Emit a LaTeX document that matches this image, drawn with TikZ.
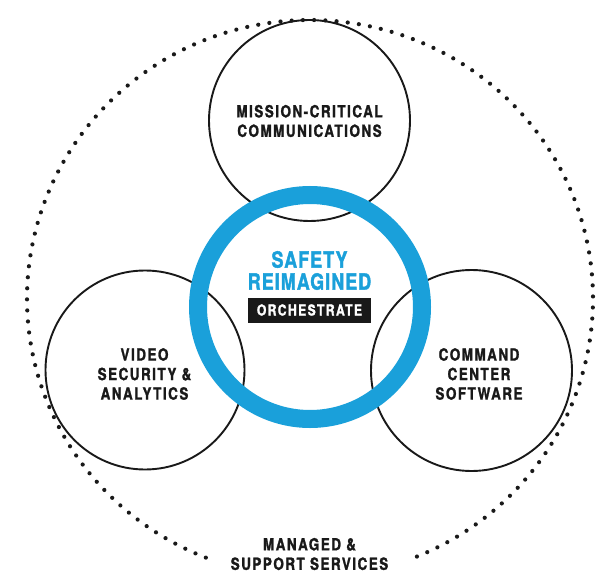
\documentclass[tikz,border=0pt]{standalone}
\usepackage{fontspec}
\newfontfamily\hcn[FakeStretch=0.8,LetterSpace=9,FakeBold=1.4]{TeX Gyre Heros}
\newfontfamily\hcnb[FakeStretch=0.8,LetterSpace=5,FakeBold=1.6]{TeX Gyre Heros}
\definecolor{ringblue}{RGB}{26,160,218}
\definecolor{ink}{RGB}{25,25,25}
\begin{document}
\begin{tikzpicture}[x=1pt,y=-1pt,
  bubble/.style={circle,draw=ink,line width=1.9pt,inner sep=0pt,minimum size=#1},
  lbl/.style={font=\hcn\bfseries\fontsize{16.8}{19.5}\selectfont,align=center,inner sep=0pt,text=ink},
  title/.style={font=\hcnb\bfseries\fontsize{22.3}{22}\selectfont,align=center,inner sep=0pt,text=ringblue},
  tag/.style={fill=ink,text=white,font=\hcn\bfseries\fontsize{15.2}{16}\selectfont,minimum width=123pt,minimum height=25pt,inner sep=0pt},
  dot/.style={fill=ink}]
\useasboundingbox (0,0) rectangle (615,588);
\fill[white] (0,0) rectangle (615,588);
% dotted outer ellipse
\foreach \k in {0,...,139}{
  \pgfmathsetmacro\myang{111.6+\k*2.27482}
  \pgfmathsetmacro\px{310+283*cos(\myang)}
  \pgfmathsetmacro\py{298.6+278.6*sin(\myang)}
  \fill[dot] (\px,\py) circle [radius=2.1pt];
}
% three circles
\node[bubble=201pt] (mcc) at (309.5,120.5) {};
\node[bubble=199pt] (vsa) at (145,370) {};
\node[bubble=201pt] (ccs) at (471.5,370.5) {};
% blue ring
\draw[ringblue,line width=18pt] (310,307) circle [radius=112];
% labels
\node[lbl] (mcct) at (309.5,121) {MISSION-CRITICAL\\COMMUNICATIONS};
\node[lbl] (vsat) at (144.5,374) {VIDEO\\SECURITY \&\\ANALYTICS};
\node[lbl] (ccst) at (479,374) {COMMAND\\CENTER\\SOFTWARE};
\node[title] (sr) at (309.5,270.5) {SAFETY\\REIMAGINED};
\node[tag] (orc) at (309.5,310) {ORCHESTRATE};
\node[lbl] (mss) at (309.5,554) {MANAGED \&\\SUPPORT SERVICES};
\end{tikzpicture}
\end{document}
